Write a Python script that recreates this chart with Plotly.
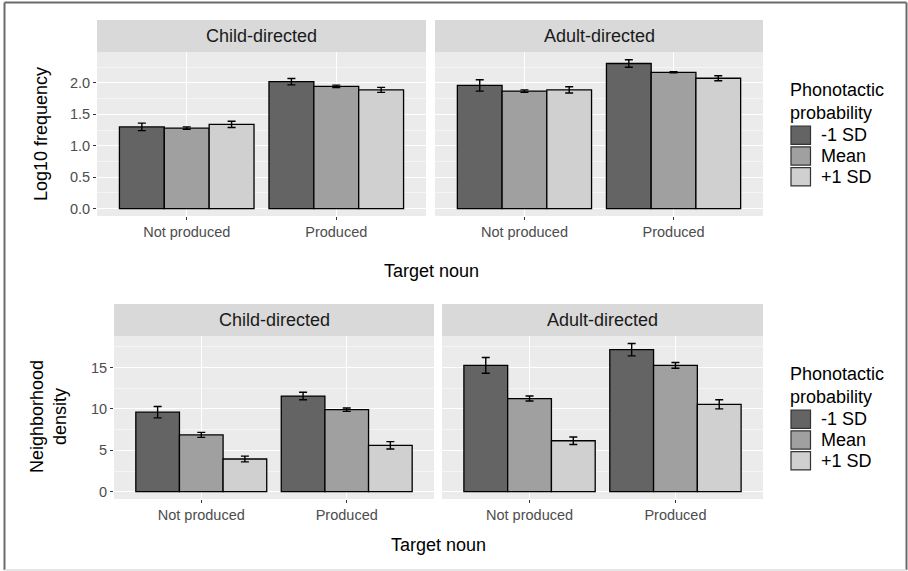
import plotly.graph_objects as go

# ---------------- data ----------------
groups = ["Not produced", "Produced"]
levels = ["-1 SD", "Mean", "+1 SD"]
fills = ["#646464", "#a0a0a0", "#d0d0d0"]

# Log10 frequency
freq_child_m1 = [1.30, 2.02]
freq_child_mean = [1.28, 1.945]
freq_child_p1 = [1.34, 1.89]
freq_child_err_m1 = [0.06, 0.05]
freq_child_err_mean = [0.02, 0.02]
freq_child_err_p1 = [0.05, 0.04]

freq_adult_m1 = [1.96, 2.31]
freq_adult_mean = [1.87, 2.17]
freq_adult_p1 = [1.89, 2.075]
freq_adult_err_m1 = [0.09, 0.06]
freq_adult_err_mean = [0.02, 0.01]
freq_adult_err_p1 = [0.05, 0.04]

# Neighborhood density
dens_child_m1 = [9.6, 11.55]
dens_child_mean = [6.86, 9.9]
dens_child_p1 = [3.95, 5.6]
dens_child_err_m1 = [0.68, 0.45]
dens_child_err_mean = [0.3, 0.2]
dens_child_err_p1 = [0.35, 0.45]

dens_adult_m1 = [15.25, 17.15]
dens_adult_mean = [11.25, 15.25]
dens_adult_p1 = [6.15, 10.55]
dens_adult_err_m1 = [0.95, 0.75]
dens_adult_err_mean = [0.3, 0.35]
dens_adult_err_p1 = [0.45, 0.55]

freq_ticks = [0.0, 0.5, 1.0, 1.5, 2.0]
dens_ticks = [0, 5, 10, 15]

# ---------------- layout helpers ----------------
W, H = 908, 571
def fx(px):
    return px / W
def fy(py):
    return 1 - py / H

FONT = "Liberation Sans, Arial, sans-serif"
TICKCOL = "#4d4d4d"

fig = go.Figure()

panels = [
    ("x", "y", [freq_child_m1, freq_child_mean, freq_child_p1],
     [freq_child_err_m1, freq_child_err_mean, freq_child_err_p1]),
    ("x2", "y2", [freq_adult_m1, freq_adult_mean, freq_adult_p1],
     [freq_adult_err_m1, freq_adult_err_mean, freq_adult_err_p1]),
    ("x3", "y3", [dens_child_m1, dens_child_mean, dens_child_p1],
     [dens_child_err_m1, dens_child_err_mean, dens_child_err_p1]),
    ("x4", "y4", [dens_adult_m1, dens_adult_mean, dens_adult_p1],
     [dens_adult_err_m1, dens_adult_err_mean, dens_adult_err_p1]),
]

for xa, ya, vals, errs in panels:
    for lvl, col, v, e in zip(levels, fills, vals, errs):
        fig.add_trace(go.Bar(
            x=groups, y=v, name=lvl, xaxis=xa, yaxis=ya,
            marker=dict(color=col, line=dict(color="black", width=1.3)),
            error_y=dict(type="data", array=e, color="black", thickness=1.4, width=4),
            showlegend=False, offsetgroup=lvl,
        ))

def xaxis_common(dom, anchor):
    return dict(domain=dom, anchor=anchor, range=[-0.6, 1.6], showgrid=True,
                gridcolor="white", gridwidth=1.1, ticks="outside", ticklen=3,
                tickcolor="#333333", tickwidth=1,
                tickfont=dict(family=FONT, size=14.5, color=TICKCOL),
                zeroline=False, showline=False, type="category")

def yaxis_common(dom, anchor, rng, tickvals, fmt, minor_dt, labels):
    return dict(domain=dom, anchor=anchor, range=rng, tickvals=tickvals, tickformat=fmt,
                showgrid=True, gridcolor="white", gridwidth=1.1,
                minor=dict(dtick=minor_dt, tick0=0, showgrid=True,
                           gridcolor="#f5f5f5", gridwidth=0.6),
                ticks="outside" if labels else "", ticklen=3, tickcolor="#333333",
                tickwidth=1, showticklabels=labels,
                tickfont=dict(family=FONT, size=14.5, color=TICKCOL),
                zeroline=False, showline=False)

top_dom = [fy(216), fy(52)]
bot_dom = [fy(499), fy(336)]
freq_rng = [-0.119, 2.493]
dens_rng = [-0.88, 18.8]

fig.update_layout(
    width=W, height=H,
    margin=dict(l=0, r=0, t=0, b=0),
    paper_bgcolor="white", plot_bgcolor="#ebebeb",
    barmode="group", bargap=0.1, bargroupgap=0,
    font=dict(family=FONT, color="black"),
    showlegend=False,
    xaxis=xaxis_common([fx(97), fx(426)], "y"),
    xaxis2=xaxis_common([fx(435), fx(763)], "y2"),
    xaxis3=xaxis_common([fx(114), fx(434)], "y3"),
    xaxis4=xaxis_common([fx(442), fx(763)], "y4"),
    yaxis=yaxis_common(top_dom, "x", freq_rng, freq_ticks, ".1f", 0.25, True),
    yaxis2=yaxis_common(top_dom, "x2", freq_rng, freq_ticks, ".1f", 0.25, False),
    yaxis3=yaxis_common(bot_dom, "x3", dens_rng, dens_ticks, "d", 2.5, True),
    yaxis4=yaxis_common(bot_dom, "x4", dens_rng, dens_ticks, "d", 2.5, False),
)

shapes = []
annotations = []

# strips
strips = [
    (97, 426, 20, 52, "Child-directed"),
    (435, 763, 20, 52, "Adult-directed"),
    (114, 434, 304, 336, "Child-directed"),
    (442, 763, 304, 336, "Adult-directed"),
]
for x0, x1, y0, y1, txt in strips:
    shapes.append(dict(type="rect", xref="paper", yref="paper",
                       x0=fx(x0), x1=fx(x1), y0=fy(y1), y1=fy(y0),
                       fillcolor="#d9d9d9", line=dict(width=0), layer="below"))
    annotations.append(dict(xref="paper", yref="paper", x=fx((x0 + x1) / 2),
                            y=fy((y0 + y1) / 2), text=txt, showarrow=False,
                            xanchor="center", yanchor="middle",
                            font=dict(size=18, family=FONT, color="#1a1a1a")))

# axis titles
annotations += [
    dict(xref="paper", yref="paper", x=fx(41), y=fy(134), text="Log10 frequency",
         textangle=-90, showarrow=False, xanchor="center", yanchor="middle",
         font=dict(size=18, family=FONT, color="black")),
    dict(xref="paper", yref="paper", x=fx(48), y=fy(417), text="Neighborhood<br>density",
         textangle=-90, showarrow=False, xanchor="center", yanchor="middle",
         font=dict(size=18, family=FONT, color="black")),
    dict(xref="paper", yref="paper", x=fx(431), y=fy(271), text="Target noun",
         showarrow=False, xanchor="center", yanchor="middle",
         font=dict(size=18, family=FONT, color="black")),
    dict(xref="paper", yref="paper", x=fx(438), y=fy(545), text="Target noun",
         showarrow=False, xanchor="center", yanchor="middle",
         font=dict(size=18, family=FONT, color="black")),
]

# legends (one per row): title + keys + labels
def add_legend(title_top, key_top):
    annotations.append(dict(xref="paper", yref="paper", x=fx(788), y=fy(title_top),
                            text="Phonotactic<br>probability", showarrow=False,
                            xanchor="left", yanchor="top", align="left",
                            font=dict(size=18, family=FONT, color="black")))
    step = 20.8
    for i, (lvl, col) in enumerate(zip(levels, fills)):
        y0 = key_top + i * step
        shapes.append(dict(type="rect", xref="paper", yref="paper",
                           x0=fx(791), x1=fx(810.5), y0=fy(y0 + step - 1.5), y1=fy(y0 + 1),
                           fillcolor=col, line=dict(color="#333333", width=1.2)))
        annotations.append(dict(xref="paper", yref="paper", x=fx(819), y=fy(y0 + step / 2),
                                text=lvl, showarrow=False, xanchor="left", yanchor="middle",
                                font=dict(size=18, family=FONT, color="black")))

add_legend(78, 125)
add_legend(362, 409)

# outer frame
frame_col = "#6b6b6b"
shapes += [
    dict(type="line", xref="paper", yref="paper", x0=fx(4.5), x1=fx(4.5), y0=fy(570), y1=fy(2.5),
         line=dict(color=frame_col, width=2)),
    dict(type="line", xref="paper", yref="paper", x0=fx(4.5), x1=fx(906.5), y0=fy(2.5), y1=fy(2.5),
         line=dict(color=frame_col, width=2)),
    dict(type="line", xref="paper", yref="paper", x0=fx(906.5), x1=fx(906.5), y0=fy(570), y1=fy(2.5),
         line=dict(color=frame_col, width=2)),
    dict(type="line", xref="paper", yref="paper", x0=fx(4.5), x1=fx(906.5), y0=fy(570), y1=fy(570),
         line=dict(color="#dedede", width=1.5)),
]

fig.update_layout(shapes=shapes, annotations=annotations)

fig.write_html("out.html", config={"displayModeBar": False},
               post_script="document.body.style.margin='0';")
